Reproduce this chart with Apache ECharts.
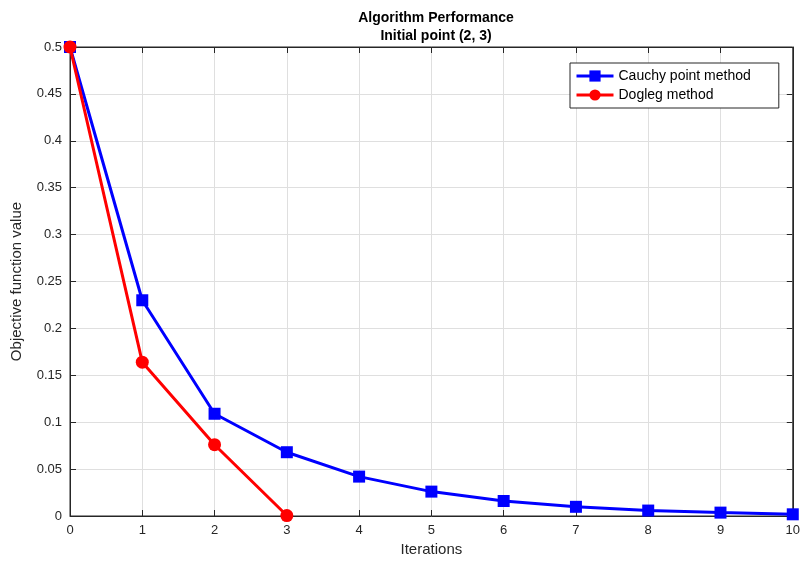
<!DOCTYPE html>
<html><head><meta charset="utf-8">
<script src="https://cdn.jsdelivr.net/npm/echarts@6/dist/echarts.min.js"></script>
<style>html,body{margin:0;padding:0;background:#fff}#c{width:803px;height:570px}</style>
</head><body><div id="c"></div>
<script>
var iterations = [0,1,2,3,4,5,6,7,8,9,10];
var cauchy = [0.5,0.230,0.109,0.068,0.042,0.026,0.016,0.0098,0.0058,0.0036,0.0018];
var dogleg = [0.5,0.164,0.076,0.0005];
var yTicks = [0,0.05,0.1,0.15,0.2,0.25,0.3,0.35,0.4,0.45,0.5];
var titleText = 'Algorithm Performance\nInitial point (2, 3)';
var xName = 'Iterations', yName = 'Objective function value';
var font = 'Liberation Sans, Arial, sans-serif';
var chart = echarts.init(document.getElementById('c'));
function pairs(v){return v.map(function(y,i){return [iterations[i],y];});}
var tickStyle = {show:true,inside:true,length:6,lineStyle:{color:'#262626'}};
var lineSt = {show:true,onZero:false,lineStyle:{color:'#262626'}};
chart.setOption({
  animation:false,
  title:{text:titleText,left:431,textAlign:'center',top:4,textStyle:{fontFamily:font,fontSize:14,fontWeight:'bold',color:'#000',lineHeight:18}},
  grid:{left:70,right:10,top:47,bottom:54,show:true,borderColor:'#262626',borderWidth:1,backgroundColor:'#fff'},
  legend:{left:570,top:63,orient:'vertical',backgroundColor:'#fff',borderColor:'#262626',borderWidth:1,borderRadius:0,padding:[6,28,6,5],itemGap:5,itemWidth:37,itemHeight:14,
    lineStyle:{width:3},
    textStyle:{fontFamily:font,fontSize:14,color:'#000'},data:['Cauchy point method','Dogleg method']},
  xAxis:[{type:'value',min:0,max:10,interval:1,name:xName,nameLocation:'middle',nameGap:24,
    nameTextStyle:{fontFamily:font,fontSize:15,color:'#262626'},
    axisLine:lineSt,axisTick:tickStyle,
    axisLabel:{fontFamily:font,fontSize:13,color:'#262626',margin:8},
    splitLine:{lineStyle:{color:'#dfdfdf'}}},
    {type:'value',position:'top',min:0,max:10,interval:1,axisLine:lineSt,axisTick:tickStyle,axisLabel:{show:false},splitLine:{show:false}}],
  yAxis:[{type:'value',min:0,max:0.5,interval:0.05,name:yName,nameLocation:'middle',nameGap:46,
    nameTextStyle:{fontFamily:font,fontSize:15,color:'#262626'},
    axisLine:lineSt,axisTick:tickStyle,
    axisLabel:{fontFamily:font,fontSize:13,color:'#262626',margin:8,formatter:function(v){return String(parseFloat(v.toFixed(2)));}},
    splitLine:{lineStyle:{color:'#dfdfdf'}}},
    {type:'value',position:'right',min:0,max:0.5,interval:0.05,axisLine:lineSt,axisTick:tickStyle,axisLabel:{show:false},splitLine:{show:false}}],
  series:[
    {name:'Cauchy point method',type:'line',data:pairs(cauchy),symbol:'rect',symbolSize:12,
     lineStyle:{color:'#0000ff',width:3},itemStyle:{color:'#0000ff'},z:2},
    {name:'Dogleg method',type:'line',data:pairs(dogleg),symbol:'circle',symbolSize:13,
     lineStyle:{color:'#ff0000',width:3},itemStyle:{color:'#ff0000'},z:3}
  ]
});
</script></body></html>
